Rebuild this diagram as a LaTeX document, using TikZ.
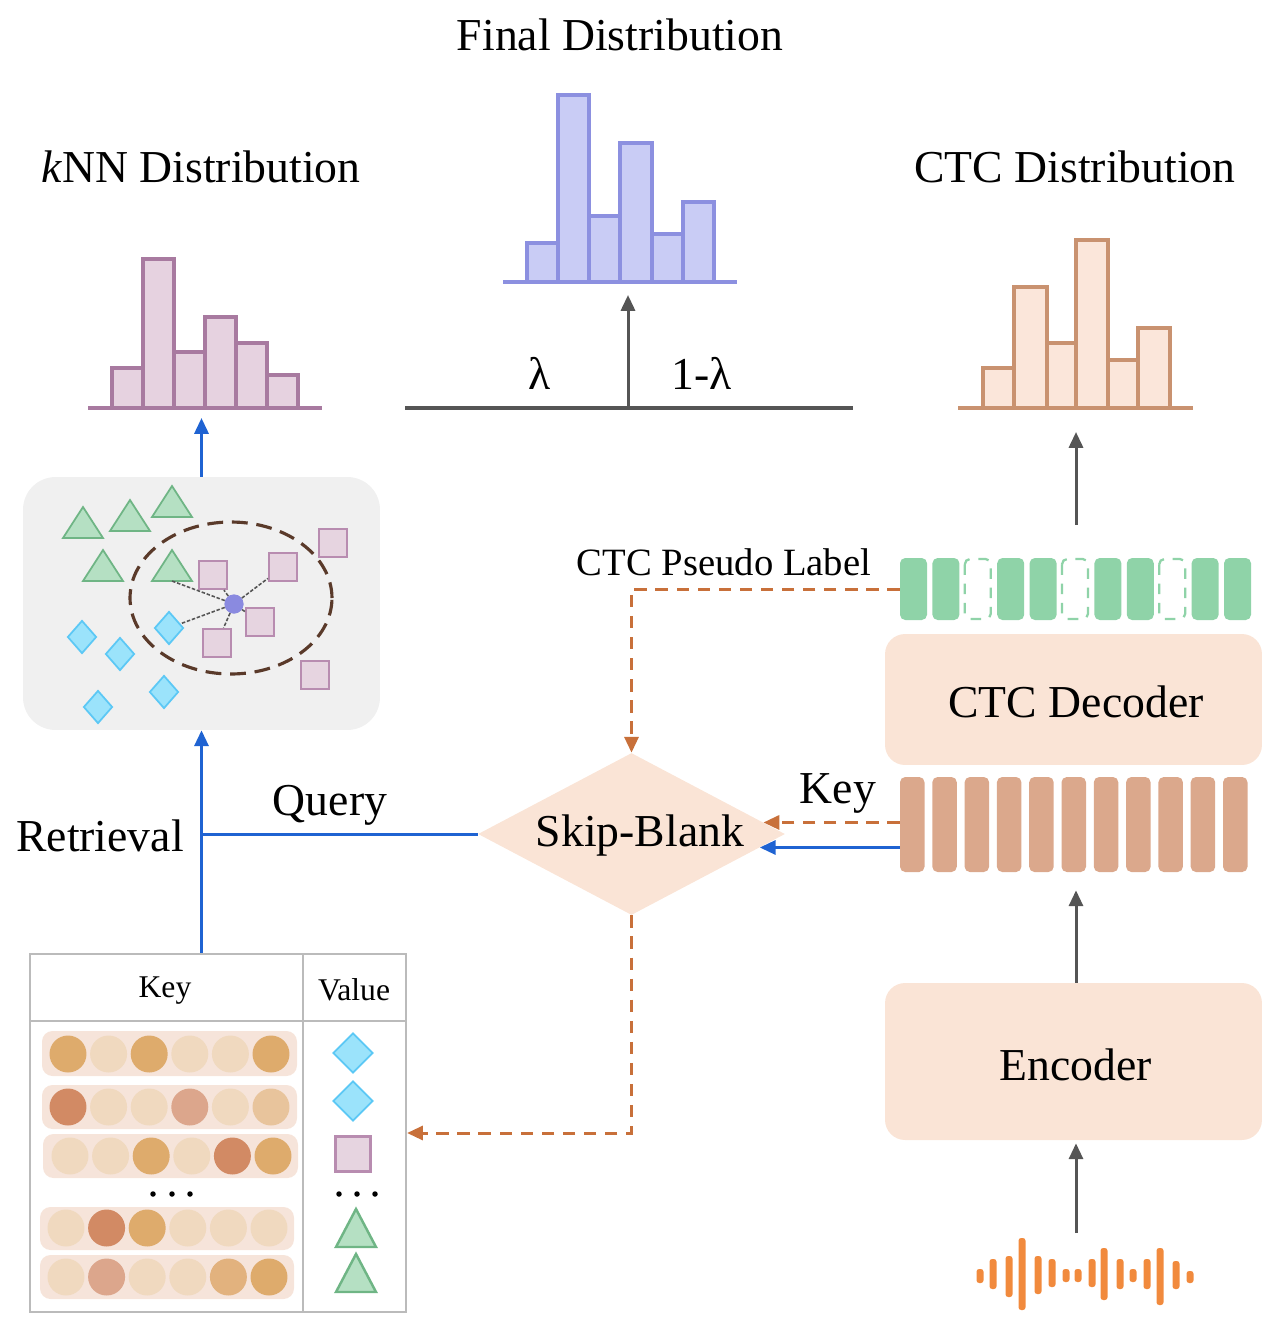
\documentclass[tikz,border=0pt]{standalone}
\usepackage{fontspec}
\setmainfont{Liberation Serif}
\usetikzlibrary{arrows.meta,shapes.geometric,calc}
\definecolor{knnfill}{HTML}{E6D2E0}
\definecolor{knnline}{HTML}{A87AA0}
\definecolor{finfill}{HTML}{C9CCF5}
\definecolor{finline}{HTML}{8C90E0}
\definecolor{ctcfill}{HTML}{FBE6DA}
\definecolor{ctcline}{HTML}{C99270}
\definecolor{boxfill}{HTML}{FAE4D6}
\definecolor{greenblk}{HTML}{8FD3A8}
\definecolor{keyblk}{HTML}{DBA88C}
\definecolor{blueln}{HTML}{1F63D2}
\definecolor{orgln}{HTML}{C8703A}
\definecolor{grayln}{HTML}{555555}
\definecolor{wavecol}{HTML}{F18A3D}
\definecolor{trifill}{HTML}{B5E0C3}
\definecolor{triline}{HTML}{6FB585}
\definecolor{diafill}{HTML}{9BE3FB}
\definecolor{dialine}{HTML}{5CC8F5}
\definecolor{sqfill}{HTML}{E6D4E0}
\definecolor{sqline}{HTML}{B88CB0}
\definecolor{clusterbg}{HTML}{F0F0F0}
\definecolor{ellline}{HTML}{5A3A2A}
\definecolor{qcol}{HTML}{8A8AE0}
\definecolor{tblline}{HTML}{BBBBBB}
\definecolor{rowbg}{HTML}{F6E4DA}
\definecolor{colg}{HTML}{DEAB6C}
\definecolor{coll}{HTML}{F0D9BF}
\definecolor{colm}{HTML}{E8C49C}
\definecolor{colt}{HTML}{D28A64}
\definecolor{colp}{HTML}{DCA68C}
\definecolor{colq}{HTML}{E2B27E}
\tikzset{
  big/.style={font=\fontsize{26}{30}\selectfont, inner sep=0pt},
  mid/.style={font=\fontsize{22}{26}\selectfont, inner sep=0pt},
  small/.style={font=\fontsize{18}{22}\selectfont, inner sep=0pt},
  knnbar/.style={draw=knnline, fill=knnfill, line width=1.9pt},
  finbar/.style={draw=finline, fill=finfill, line width=1.9pt},
  ctcbar/.style={draw=ctcline, fill=ctcfill, line width=1.9pt},
  tri/.style={draw=triline, fill=trifill, line width=1pt, line join=miter},
  dian/.style={diamond, draw=dialine, fill=diafill, line width=1pt, inner sep=0pt, minimum width=0.58cm, minimum height=0.66cm},
  sqn/.style={rectangle, draw=sqline, fill=sqfill, line width=1pt, inner sep=0pt, minimum size=0.57cm},
  knnlink/.style={draw=grayln, line width=0.9pt, dash pattern=on 2pt off 1pt},
  tip/.style={-{Triangle[length=9pt,width=8pt]}},
  bluearrow/.style={blueln, line width=1.7pt, tip},
  blueline/.style={blueln, line width=1.7pt},
  grayarrow/.style={grayln, line width=1.7pt, tip},
  orgarrow/.style={orgln, line width=1.7pt, dash pattern=on 7pt off 5pt, tip},
  softbox/.style={rectangle, fill=boxfill, rounded corners=0.4cm, inner sep=0pt},
  gblk/.style={fill=greenblk, rounded corners=3pt},
  gblkd/.style={draw=greenblk, line width=1.3pt, dash pattern=on 6pt off 5pt, rounded corners=3pt},
  kblk/.style={fill=keyblk, rounded corners=3pt},
  wbar/.style={fill=wavecol, rounded corners=1.5pt},
}
\begin{document}
\begin{tikzpicture}[x=0.02cm,y=-0.02cm]
\useasboundingbox (0,0) rectangle (1272,1329);

% ---------- titles ----------
\node[big] (ftitle) at (620,35) {Final Distribution};
\node[big] (ktitle) at (201,167) {\textit{k}NN Distribution};
\node[big] (ctitle) at (1075,167) {CTC Distribution};

% ---------- histograms ----------
\foreach \xa/\xb/\t in {112/143/368,143/174/259,174/205/352,205/236/317,236/267/343,267/298/375}
  \draw[knnbar] (\xa,408) rectangle (\xb,\t);
\draw[knnline, line width=2pt] (88,408) -- (322,408);
\coordinate (knnbase) at (201.5,408);

\foreach \xa/\xb/\t in {527/558/243,558/589/95,589/620/216,620/652/143,652/683/234,683/714/202}
  \draw[finbar] (\xa,282) rectangle (\xb,\t);
\draw[finline, line width=2pt] (503,282) -- (737,282);
\coordinate (finbase) at (628,282);

\foreach \xa/\xb/\t in {983/1014/368,1014/1047/287,1047/1076/343,1076/1108/240,1108/1138/360,1138/1170/328}
  \draw[ctcbar] (\xa,408) rectangle (\xb,\t);
\draw[ctcline, line width=2pt] (958,408) -- (1193,408);
\coordinate (ctcbase) at (1076,408);

% ---------- mixing line ----------
\coordinate (mixL) at (405,408);
\coordinate (mixR) at (853,408);
\coordinate (mix) at (628,408);
\draw[grayln, line width=1.9pt] (mixL) -- (mixR);
\draw[grayarrow, shorten >=0.26cm] (mix) -- (finbase);
\node[big] (lam) at (540,373) {λ};
\node[big] (lam2) at (702,373) {1-λ};

% ---------- cluster box ----------
\node[fill=clusterbg, rounded corners=0.65cm, inner sep=0pt, minimum width=7.14cm, minimum height=5.06cm] (cluster) at (201.5,603.5) {};
\draw[bluearrow, shorten >=0.2cm] (cluster.north) -- (knnbase);

\node[circle, fill=qcol, inner sep=0pt, minimum size=0.38cm] (qpt) at (234,604) {};
\node[sqn] (s1) at (213,575) {};
\node[sqn] (s2) at (283,567) {};
\node[sqn] (s3) at (333,543) {};
\node[sqn] (s4) at (260,622) {};
\node[sqn] (s5) at (217,643) {};
\node[sqn] (s6) at (315,675) {};
\node[dian] (d1) at (82,637) {};
\node[dian] (d2) at (120,654) {};
\node[dian] (d3) at (169,628) {};
\node[dian] (d4) at (98,707) {};
\node[dian] (d5) at (164,692) {};
\foreach \x/\y in {83/507,130/500,172/486,103/550,172/550}
  \draw[tri] (\x,\y) -- ++(-20,31) -- ++(40,0) -- cycle;
\coordinate (t5) at (172,581);
\foreach \n in {t5,s1,s2,s4,s5,d3}
  \draw[knnlink] (qpt) -- (\n);
\node[circle, fill=qcol, inner sep=0pt, minimum size=0.38cm] at (qpt) {};
\draw[ellline, line width=1.8pt, dash pattern=on 9pt off 5pt] (231,598) ellipse [x radius=2.02cm, y radius=1.52cm];

% ---------- right column ----------
\node[softbox, minimum width=7.54cm, minimum height=2.62cm] (dec) at (1073.5,699.5) {};
\node[big] (dectxt) at (1076,702) {CTC Decoder};
\node[softbox, minimum width=7.54cm, minimum height=3.14cm] (enc) at (1073.5,1061.5) {};
\node[big] (enctxt) at (1076,1065) {Encoder};

% pseudo label bar
\node[inner sep=0pt, minimum width=7.04cm, minimum height=1.24cm] (plbar) at (1076,589) {};
\foreach \i in {0,1,3,4,6,7,9,10}{
  \pgfmathsetmacro\xl{900+32.4*\i}
  \fill[gblk] (\xl,558) rectangle ++(27,62);
}
\foreach \i in {2,5,8}{
  \pgfmathsetmacro\xl{900+32.4*\i}
  \draw[gblkd] (\xl,559) rectangle ++(26,60);
}
% key bar
\node[inner sep=0pt, minimum width=6.96cm, minimum height=1.9cm] (keybar) at (1074,824.5) {};
\foreach \i in {0,...,10}{
  \pgfmathsetmacro\xl{900+32.3*\i}
  \fill[kblk] (\xl,777) rectangle ++(24.5,95);
}

% waveform
\foreach \x/\a/\b in {980/1269/1283,993/1259/1289,1009/1256/1297,1022/1238/1310,1038/1256/1294,1052/1259/1287,1066/1269/1282,1078/1269/1282,1092/1259/1287,1104/1248/1300,1120/1259/1289,1133/1269/1282,1147/1259/1289,1160/1248/1305,1176/1261/1289,1190/1271/1283}
  \fill[wbar] (\x-3.5,\a) rectangle (\x+3.5,\b);
\coordinate (wavetop) at (1076,1233);

\draw[grayarrow, shorten <=0.66cm, shorten >=0.48cm] (plbar.north) -- (ctcbase);
\draw[grayarrow, shorten >=0.36cm] (enc.north -| wavetop) -- (keybar.south -| wavetop);
\draw[grayarrow, shorten >=0.06cm] (wavetop) -- (wavetop |- enc.south);

% ---------- skip-blank ----------
\node[diamond, fill=boxfill, inner sep=0pt, minimum width=6.14cm, minimum height=3.24cm] (sb) at (631.5,834) {};
\node[big] (sbtxt) at (640,836) {Skip-Blank};

\draw[orgarrow] (plbar.west) -| (sb.north);
\node[mid] (pltxt) at (724,562) {CTC Pseudo Label};
\draw[orgarrow] (sb.5 -| keybar.west) -- (sb.5);
\draw[bluearrow] (sb.-6 -| keybar.west) -- (sb.-6);
\node[big] (keytxt) at (838,793) {Key};

% ---------- table ----------
\node[draw=tblline, line width=1.3pt, inner sep=0pt, minimum width=7.52cm, minimum height=7.16cm] (tbl) at (218,1133) {};
\draw[tblline, line width=1.6pt] (tbl.west |- 0,1021) -- (tbl.east |- 0,1021);
\draw[tblline, line width=1.3pt] (303,954) -- (303,1312);
\node[small] (keyh) at (165,991) {Key};
\node[small] (valh) at (354,990) {Value};

\foreach \xa/\xb/\ya/\yb in {42/297/1031/1076,42/297/1085/1129,43/298/1134/1178,40/294/1207/1250,40/294/1255/1299}
  \fill[rowbg, rounded corners=6pt] (\xa,\ya) rectangle (\xb,\yb);
\foreach \y/\xs/\cols in {1054/68/{g,l,g,l,l,g},1107/68/{t,l,l,p,l,m},1156/70/{l,l,g,l,t,g},1228/66/{l,t,g,l,l,l},1277/66/{l,p,l,l,q,g}}{
  \foreach \c [count=\k] in \cols{
    \fill[col\c] (\xs+40.6*\k-40.6,\y) circle [radius=0.37cm];
  }
}
\foreach \x in {153,172,190} \fill[black] (\x,1194) circle [radius=0.055cm];
\foreach \x in {339,357,375} \fill[black] (\x,1194) circle [radius=0.055cm];

\node[dian, minimum width=0.8cm, minimum height=0.8cm] (v1) at (353,1053) {};
\node[dian, minimum width=0.8cm, minimum height=0.8cm] (v2) at (353,1101) {};
\node[sqn, minimum size=0.7cm, line width=1.4pt] (v3) at (353,1154) {};
\draw[tri, line width=1.4pt] (356,1209) -- ++(-20,38) -- ++(40,0) -- cycle;
\draw[tri, line width=1.4pt] (356,1254) -- ++(-20,38) -- ++(40,0) -- cycle;

% ---------- retrieval connectors ----------
\draw[blueline] (sb.west) -- (sb.west -| cluster.south);
\draw[bluearrow] (cluster.south |- tbl.north) -- (cluster.south);
\node[big] (qtxt) at (330,805) {Query};
\node[big] (rtxt) at (100,836) {Retrieval};
\draw[orgarrow] (sb.south) |- (tbl.east);

\end{tikzpicture}
\end{document}
